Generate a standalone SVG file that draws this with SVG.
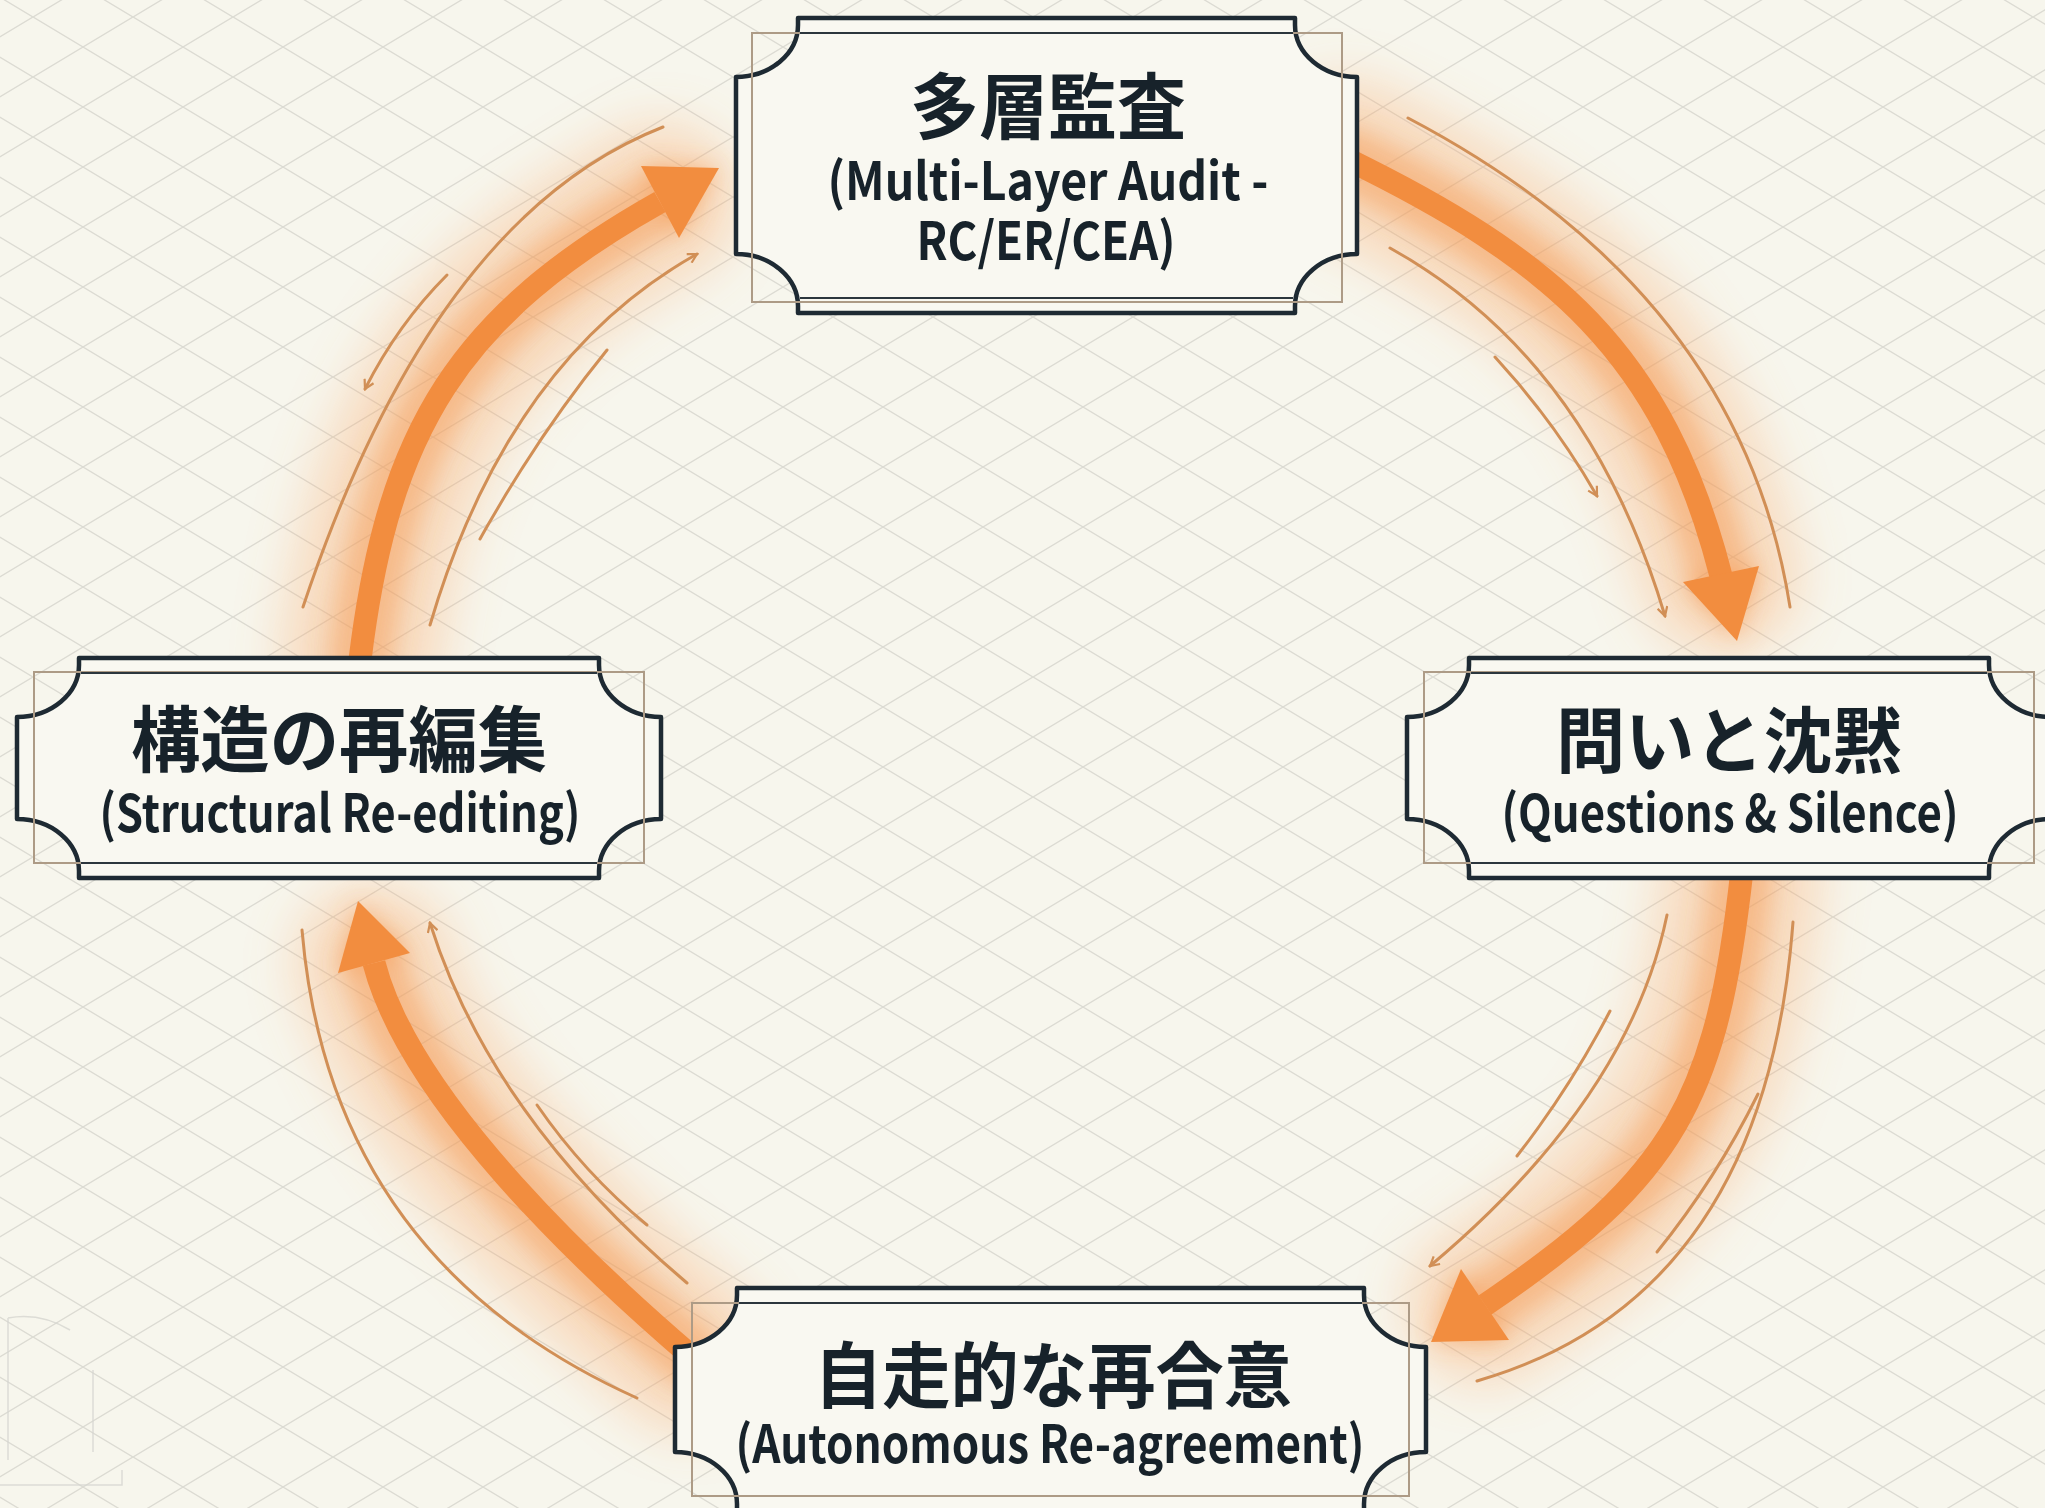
<svg xmlns="http://www.w3.org/2000/svg" width="2045" height="1508" viewBox="0 0 2045 1508">
<defs>
<style>
.bg{fill:#f7f6ed}
.glowW{fill:none;stroke:#f8a766;stroke-width:160;stroke-linecap:round;opacity:0.34}
.glowN{fill:none;stroke:#f5944a;stroke-width:64;stroke-linecap:round;opacity:0.45}
.glowH{fill:#f5944a;opacity:0.5}
.thin{fill:none;stroke:#d18f56;stroke-width:3;stroke-linecap:round}
.main{fill:none;stroke:#f28d3f;stroke-width:23;stroke-linecap:butt}
.head{fill:#f28d3f}
.frame{fill:#f9f8f1;stroke:#1e2a33;stroke-width:4.5;stroke-linejoin:round}
.inner{stroke:#2c363d;stroke-width:2.2;fill:none}
.tan{fill:none;stroke:#ad9b86;stroke-width:2}
.jp{font-family:"Noto Sans CJK JP","Noto Sans CJK SC",sans-serif;font-weight:700;font-size:72px;fill:#17222a;text-anchor:middle}
.en{font-family:"Noto Sans CJK JP","Noto Sans",sans-serif;font-weight:600;font-size:52px;fill:#17222a;text-anchor:middle}
.faint{fill:none;stroke:#d6d6cf;stroke-width:1.5}
</style>
<pattern id="iso" width="100" height="60" patternUnits="userSpaceOnUse" x="33" y="17">
<path d="M0,0 L100,60 M0,60 L100,0" stroke="#dcdbd3" stroke-width="1.4" fill="none"/>
</pattern>
<filter id="blurW" filterUnits="userSpaceOnUse" x="0" y="0" width="2045" height="1508"><feGaussianBlur stdDeviation="24"/></filter>
<filter id="blurN" filterUnits="userSpaceOnUse" x="0" y="0" width="2045" height="1508"><feGaussianBlur stdDeviation="12"/></filter>
<marker id="tip" viewBox="0 0 12 12" refX="10" refY="6" markerWidth="12" markerHeight="12" markerUnits="userSpaceOnUse" orient="auto">
<path d="M1,1 L10,6 L1,11" fill="none" stroke="#d18f56" stroke-width="2.2"/>
</marker>
</defs>

<rect class="bg" x="0" y="0" width="2045" height="1508"/>
<rect x="0" y="0" width="2045" height="1508" fill="url(#iso)"/>

<g id="faint-sketch" opacity="0.8">
<path class="faint" d="M8,1318 V1460 M93,1370 V1452 M0,1485 H122 V1470 M8,1318 Q40,1312 70,1330"/>
</g>

<g id="connectors">
<g id="glow-wide" filter="url(#blurW)">
<path class="glowW" d="M360,660 C388,429 459,315 660,202"/>
<path class="glowW" d="M1345,158 C1552,259 1664,353 1721,576"/>
<path class="glowW" d="M1742,870 C1717,1098 1676,1176 1485,1305"/>
<path class="glowW" d="M690,1355 C584,1264 409,1099 374,963"/>
</g>
<g id="glow-narrow" filter="url(#blurN)">
<path class="glowN" d="M360,660 C388,429 459,315 660,202"/>
<path class="glowN" d="M1345,158 C1552,259 1664,353 1721,576"/>
<path class="glowN" d="M1742,870 C1717,1098 1676,1176 1485,1305"/>
<path class="glowN" d="M690,1355 C584,1264 409,1099 374,963"/>
<polygon class="glowH" points="641,166 679,238 719,168"/>
<polygon class="glowH" points="1683,582 1759,566 1737,641"/>
<polygon class="glowH" points="1461,1269 1509,1340 1431,1342"/>
<polygon class="glowH" points="338,973 410,953 358,901"/>
</g>

<g id="thin-lines">
<path class="thin" d="M303,607 Q433,217 663,127"/>
<path class="thin" d="M447,275 Q398,324 365,389" marker-end="url(#tip)"/>
<path class="thin" d="M430,625 Q508,360 697,254" marker-end="url(#tip)"/>
<path class="thin" d="M480,539 Q538,435 607,350"/>

<path class="thin" d="M1408,118 Q1741,293 1790,607"/>
<path class="thin" d="M1390,248 Q1588,358 1665,616" marker-end="url(#tip)"/>
<path class="thin" d="M1495,357 Q1554,421 1597,496" marker-end="url(#tip)"/>

<path class="thin" d="M1667,915 Q1629,1099 1430,1266" marker-end="url(#tip)"/>
<path class="thin" d="M1610,1011 Q1570,1088 1517,1156"/>
<path class="thin" d="M1793,922 Q1765,1298 1477,1381"/>
<path class="thin" d="M1758,1094 Q1716,1179 1657,1252"/>

<path class="thin" d="M302,930 Q330,1260 637,1398"/>
<path class="thin" d="M687,1283 Q491,1117 430,923" marker-end="url(#tip)"/>
<path class="thin" d="M647,1225 Q584,1173 537,1105"/>
</g>

<g id="main-arrows">
<path class="main" d="M360,660 C388,429 459,315 660,202"/>
<polygon class="head" points="641,166 679,238 719,168"/>
<path class="main" d="M1345,158 C1552,259 1664,353 1721,576"/>
<polygon class="head" points="1683,582 1759,566 1737,641"/>
<path class="main" d="M1742,870 C1717,1098 1676,1176 1485,1305"/>
<polygon class="head" points="1461,1269 1509,1340 1431,1342"/>
<path class="main" d="M690,1355 C584,1264 409,1099 374,963"/>
<polygon class="head" points="338,973 410,953 358,901"/>
</g>
</g>

<g id="node-audit">
<path class="frame" d="M798,18 H1295 V25 A62,52 0 0 0 1357,77 V254 A62,52 0 0 0 1295,306 V313 H798 V306 A62,52 0 0 0 736,254 V77 A62,52 0 0 0 798,25 Z"/>
<rect class="tan" x="752" y="33" width="590" height="269"/>
<path class="inner" d="M800,33 H1293 M800,298 H1293"/>
<text class="jp" x="1048" y="133" textLength="276" lengthAdjust="spacingAndGlyphs">多層監査</text>
<text class="en" x="1048" y="200" textLength="441" lengthAdjust="spacingAndGlyphs">(Multi-Layer Audit -</text>
<text class="en" x="1046" y="260" textLength="259" lengthAdjust="spacingAndGlyphs">RC/ER/CEA)</text>
</g>

<g id="node-restructure">
<path class="frame" d="M79,658 H599 V665 A62,52 0 0 0 661,717 V819 A62,52 0 0 0 599,871 V878 H79 V871 A62,52 0 0 0 17,819 V717 A62,52 0 0 0 79,665 Z"/>
<rect class="tan" x="34" y="672" width="610" height="191"/>
<path class="inner" d="M81,673 H597 M81,863 H597"/>
<text class="jp" x="339" y="766" textLength="416" lengthAdjust="spacingAndGlyphs">構造の再編集</text>
<text class="en" x="340" y="832" textLength="481" lengthAdjust="spacingAndGlyphs">(Structural Re-editing)</text>
</g>

<g id="node-questions">
<path class="frame" d="M1469,658 H1989 V665 A62,52 0 0 0 2051,717 V819 A62,52 0 0 0 1989,871 V878 H1469 V871 A62,52 0 0 0 1407,819 V717 A62,52 0 0 0 1469,665 Z"/>
<rect class="tan" x="1424" y="672" width="610" height="191"/>
<path class="inner" d="M1471,673 H1987 M1471,863 H1987"/>
<text class="jp" x="1729" y="767" textLength="346" lengthAdjust="spacingAndGlyphs">問いと沈黙</text>
<text class="en" x="1730" y="832" textLength="457" lengthAdjust="spacingAndGlyphs">(Questions &amp; Silence)</text>
</g>

<g id="node-agreement">
<path class="frame" d="M737,1288 H1364 V1295 A62,52 0 0 0 1426,1347 V1452 A62,52 0 0 0 1364,1504 V1511 H737 V1504 A62,52 0 0 0 675,1452 V1347 A62,52 0 0 0 737,1295 Z"/>
<rect class="tan" x="692" y="1303" width="717" height="193"/>
<path class="inner" d="M739,1303 H1362"/>
<text class="jp" x="1053" y="1402" textLength="478" lengthAdjust="spacingAndGlyphs">自走的な再合意</text>
<text class="en" x="1050" y="1463" textLength="629" lengthAdjust="spacingAndGlyphs">(Autonomous Re-agreement)</text>
</g>
</svg>
